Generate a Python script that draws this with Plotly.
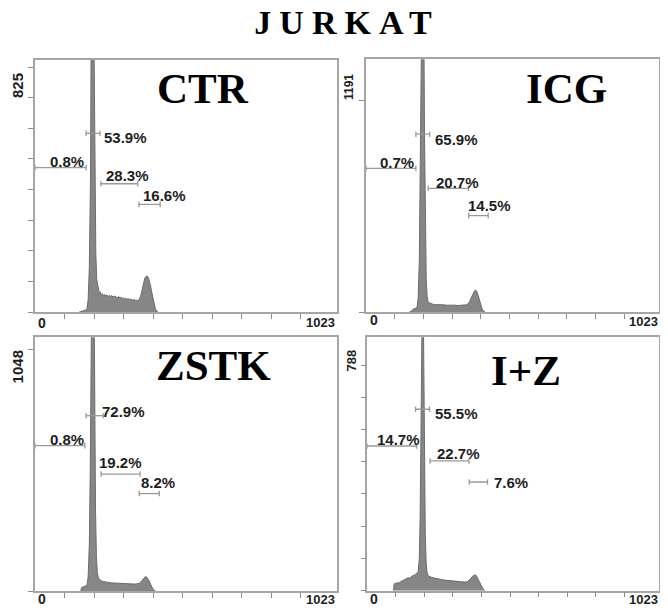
import plotly.graph_objects as go

# The page body adds an 8px margin and the right-most 8px of the window are not
# shown, so the figure covers page pixels 8..660 x 8..613; positions below are
# given in page coordinates.
OFF = 8
W, H = 652, 605

# ---------------- data ----------------
panel_names = ["CTR", "ICG", "ZSTK", "I+Z"]
y_top_labels = [825, 1191, 1048, 788]
x_max = 1023

ctr_channels = [150, 160, 170, 176, 180, 184, 188, 191, 194, 197, 200, 203, 206, 209, 213, 216, 220,
                224, 228, 232, 236, 240, 244, 248, 252, 256, 260, 264, 268, 272, 276, 280, 284, 288,
                292, 296, 300, 304, 308, 312, 316, 320, 324, 328, 332, 336, 340, 344, 348, 352, 356,
                360, 364, 368, 372, 376, 380, 384, 388, 392, 396, 400, 404, 408, 412, 416]
ctr_counts = [0, 4, 6, 12, 40, 150, 450, 1100, 1700, 1600, 900, 420, 200, 110, 80, 72, 68,
              58, 62, 55, 59, 54, 57, 52, 56, 53, 55, 50, 54, 51, 50, 49, 52, 47,
              49, 46, 47, 44, 46, 43, 45, 42, 44, 41, 40, 42, 39, 40, 38, 41, 48,
              62, 80, 100, 114, 120, 121, 116, 104, 86, 64, 42, 22, 10, 4, 0]

icg_channels = [150, 160, 166, 172, 178, 182, 186, 189, 192, 195, 198, 201, 204, 207, 210, 213, 216,
                220, 226, 232, 240, 250, 260, 270, 280, 290, 300, 310, 320, 330, 340, 350, 356,
                362, 368, 374, 378, 382, 386, 390, 395, 400, 405, 410, 416]
icg_counts = [0, 8, 20, 22, 30, 80, 300, 700, 1300, 1900, 2200, 1800, 1000, 450, 180, 90, 62,
              54, 48, 46, 43, 44, 41, 42, 40, 41, 39, 40, 38, 40, 39, 42, 48,
              62, 85, 108, 120, 125, 118, 100, 70, 40, 18, 6, 0]

zstk_channels = [155, 158, 164, 170, 176, 180, 184, 187, 190, 193, 196, 199, 202, 205, 208, 211, 215,
                 220, 226, 232, 240, 250, 260, 270, 280, 290, 300, 310, 320, 330, 340, 350, 356,
                 362, 368, 372, 376, 380, 386, 392, 398, 404, 408]
zstk_counts = [0, 15, 18, 20, 25, 60, 200, 500, 1000, 1600, 1900, 1500, 800, 350, 150, 80, 55,
               48, 43, 41, 38, 37, 35, 35, 34, 33, 32, 32, 31, 30, 30, 32, 36,
               45, 55, 60, 62, 58, 45, 28, 12, 3, 0]

iz_channels = [92, 94, 100, 106, 112, 118, 124, 130, 136, 142, 148, 154, 160, 166, 172, 178, 182,
               185, 188, 191, 194, 197, 200, 203, 206, 209, 213, 218, 224, 232, 240, 250, 260,
               270, 280, 290, 300, 310, 320, 330, 340, 350, 356, 362, 368, 374, 378, 382, 388,
               394, 400, 406, 412]
iz_counts = [0, 24, 26, 28, 27, 33, 35, 39, 41, 45, 44, 50, 53, 55, 60, 65, 110,
             250, 550, 1000, 1200, 900, 450, 200, 100, 65, 52, 49, 47, 45, 44, 41, 39,
             37, 36, 34, 33, 32, 31, 31, 30, 31, 35, 42, 50, 55, 56, 52, 40,
             25, 12, 5, 0]

ctr_gate_start = [0, 173, 223, 352]
ctr_gate_end = [173, 220, 348, 424]
ctr_pct = ["0.8%", "53.9%", "28.3%", "16.6%"]

icg_gate_start = [0, 174, 217, 358]
icg_gate_end = [174, 222, 357, 426]
icg_pct = ["0.7%", "65.9%", "20.7%", "14.5%"]

zstk_gate_start = [0, 173, 224, 353]
zstk_gate_end = [169, 231, 356, 421]
zstk_pct = ["0.8%", "72.9%", "19.2%", "8.2%"]

iz_gate_start = [0, 169, 220, 357]
iz_gate_end = [173, 218, 356, 421]
iz_pct = ["14.7%", "55.5%", "22.7%", "7.6%"]

x_tick_values = [100, 200, 300, 400, 500, 600, 700, 800, 900]

# ---------------- layout / style ----------------
panels = [
    dict(name=panel_names[0], ytop=y_top_labels[0], ch=ctr_channels, ct=ctr_counts,
         gs=ctr_gate_start, ge=ctr_gate_end, pct=ctr_pct,
         px=(35, 337), py=(60, 312), tick_px=67, nticks=8,
         gate_y=[0.573, 0.709, 0.509, 0.427],
         lab=[(107, 0.596, "center"), (226, 0.693, "left"), (312, 0.540, "center"), (439, 0.462, "center")],
         title_xy=(202.5, 89), ylab=(17.5, 85.5, 15), x0lab=(36, 322.5), x1lab=(337, 322.5, "right")),
    dict(name=panel_names[1], ytop=y_top_labels[1], ch=icg_channels, ct=icg_counts,
         gs=icg_gate_start, ge=icg_gate_end, pct=icg_pct,
         px=(366, 659.4), py=(59.3, 312.3), tick_px=100, nticks=1,
         gate_y=[0.569, 0.704, 0.490, 0.382],
         lab=[(109, 0.593, "center"), (232, 0.684, "left"), (320, 0.514, "center"), (432, 0.421, "center")],
         title_xy=(566.7, 89), ylab=(348.3, 86.7, 12), x0lab=(368, 320), x1lab=(660, 321, "right")),
    dict(name=panel_names[2], ytop=y_top_labels[2], ch=zstk_channels, ct=zstk_counts,
         gs=zstk_gate_start, ge=zstk_gate_end, pct=zstk_pct,
         px=(35, 337), py=(337.3, 591), tick_px=349, nticks=1,
         gate_y=[0.573, 0.691, 0.461, 0.384],
         lab=[(110, 0.599, "center"), (220, 0.706, "left"), (291, 0.507, "center"), (418, 0.426, "center")],
         title_xy=(213, 365), ylab=(17.7, 366.7, 15), x0lab=(36, 599), x1lab=(337, 599, "right")),
    dict(name=panel_names[3], ytop=y_top_labels[3], ch=iz_channels, ct=iz_counts,
         gs=iz_gate_start, ge=iz_gate_end, pct=iz_pct,
         px=(367.3, 659.4), py=(337.3, 590.7), tick_px=365, nticks=7,
         gate_y=[0.571, 0.716, 0.512, 0.429],
         lab=[(111, 0.597, "center"), (229, 0.699, "left"), (318, 0.542, "center"), (438, 0.426, "left")],
         title_xy=(525.8, 370), ylab=(351.7, 360.8, 13), x0lab=(368, 599), x1lab=(660, 599, "right")),
]

FILL = "#868686"
EDGE = "#6c6c6c"
AXIS = "#a6a6a6"
GATE = "#9a9a9a"
TXT = "#1e1e1e"
SANS = "Liberation Sans, Arial, sans-serif"
SERIF = "Liberation Serif, Times New Roman, serif"


def pxx(x):
    return (x - OFF) / W


def pyy(y):
    return 1 - (y - OFF) / H


fig = go.Figure()
shapes = []
annotations = []
layout_axes = {}

for i, p in enumerate(panels):
    n = "" if i == 0 else str(i + 1)
    xa, ya = "x" + n, "y" + n
    top, bot = p["py"]
    ymax = p["ytop"] * (bot - top) / (bot - p["tick_px"])

    fig.add_trace(go.Scatter(x=p["ch"], y=p["ct"], mode="lines", fill="tozeroy",
                             fillcolor=FILL, line=dict(color=EDGE, width=1),
                             xaxis=xa, yaxis=ya, showlegend=False, hoverinfo="skip"))

    common = dict(showline=True, linecolor=AXIS, linewidth=1.5, mirror=True, showgrid=False,
                  zeroline=False, ticks="outside", ticklen=5, tickwidth=1, tickcolor="#8c8c8c",
                  showticklabels=False, fixedrange=True)
    layout_axes["xaxis" + n] = dict(common, domain=[pxx(p["px"][0]), min(1.0, pxx(p["px"][1]))],
                                    range=[0, x_max], anchor=ya, tickvals=x_tick_values)
    layout_axes["yaxis" + n] = dict(common, domain=[max(0.0, pyy(bot)), pyy(top)], range=[0, ymax], anchor=xa,
                                    tickvals=[p["ytop"] * k / p["nticks"] for k in range(p["nticks"] + 1)])

    # gates (brackets)
    cap = 0.011
    for s, e, gy in zip(p["gs"], p["ge"], p["gate_y"]):
        shapes.append(dict(type="line", xref=xa, yref=ya + " domain", x0=s, x1=e, y0=gy, y1=gy,
                           line=dict(color=GATE, width=1.3)))
        for xe in (s, e):
            shapes.append(dict(type="line", xref=xa, yref=ya + " domain", x0=xe, x1=xe,
                               y0=gy - cap, y1=gy + cap, line=dict(color=GATE, width=1.3)))
    # percentage labels
    for txt, (lx, ly, anc) in zip(p["pct"], p["lab"]):
        annotations.append(dict(text=txt, x=lx, y=ly, xref=xa, yref=ya + " domain",
                                xanchor=anc, yanchor="middle", showarrow=False,
                                font=dict(family=SANS, size=15, color=TXT, weight="bold")))
    # panel title
    tx, ty = p["title_xy"]
    annotations.append(dict(text=p["name"], x=pxx(tx), y=pyy(ty), xref="paper", yref="paper",
                            xanchor="center", yanchor="middle", showarrow=False,
                            font=dict(family=SERIF, size=43, color="#000000", weight="bold")))
    # y top label (rotated)
    lx, ly, fs = p["ylab"]
    annotations.append(dict(text=str(p["ytop"]), x=pxx(lx), y=pyy(ly), xref="paper", yref="paper",
                            xanchor="center", yanchor="middle", showarrow=False, textangle=-90,
                            font=dict(family=SANS, size=fs, color=TXT, weight="bold")))
    # x labels
    annotations.append(dict(text="0", x=pxx(p["x0lab"][0]), y=pyy(p["x0lab"][1]), xref="paper",
                            yref="paper", xanchor="left", yanchor="middle", showarrow=False,
                            font=dict(family=SANS, size=14, color=TXT, weight="bold")))
    x1x, x1y, x1a = p["x1lab"]
    annotations.append(dict(text=str(x_max), x=pxx(x1x), y=pyy(x1y), xref="paper", yref="paper",
                            xanchor=x1a, yanchor="middle", showarrow=False,
                            font=dict(family=SANS, size=13, color=TXT, weight="bold")))

annotations.append(dict(text='<span style="letter-spacing:8px">JURKAT</span>', x=pxx(347), y=pyy(22),
                        xref="paper", yref="paper", xanchor="center", yanchor="middle",
                        width=210, height=40, align="center", showarrow=False,
                        font=dict(family=SERIF, size=34, color="#000000", weight="bold")))

fig.update_layout(width=W, height=H, autosize=False, margin=dict(l=0, r=0, t=0, b=0),
                  paper_bgcolor="white", plot_bgcolor="white", shapes=shapes,
                  annotations=annotations, **layout_axes)

fig.write_html("out.html")
